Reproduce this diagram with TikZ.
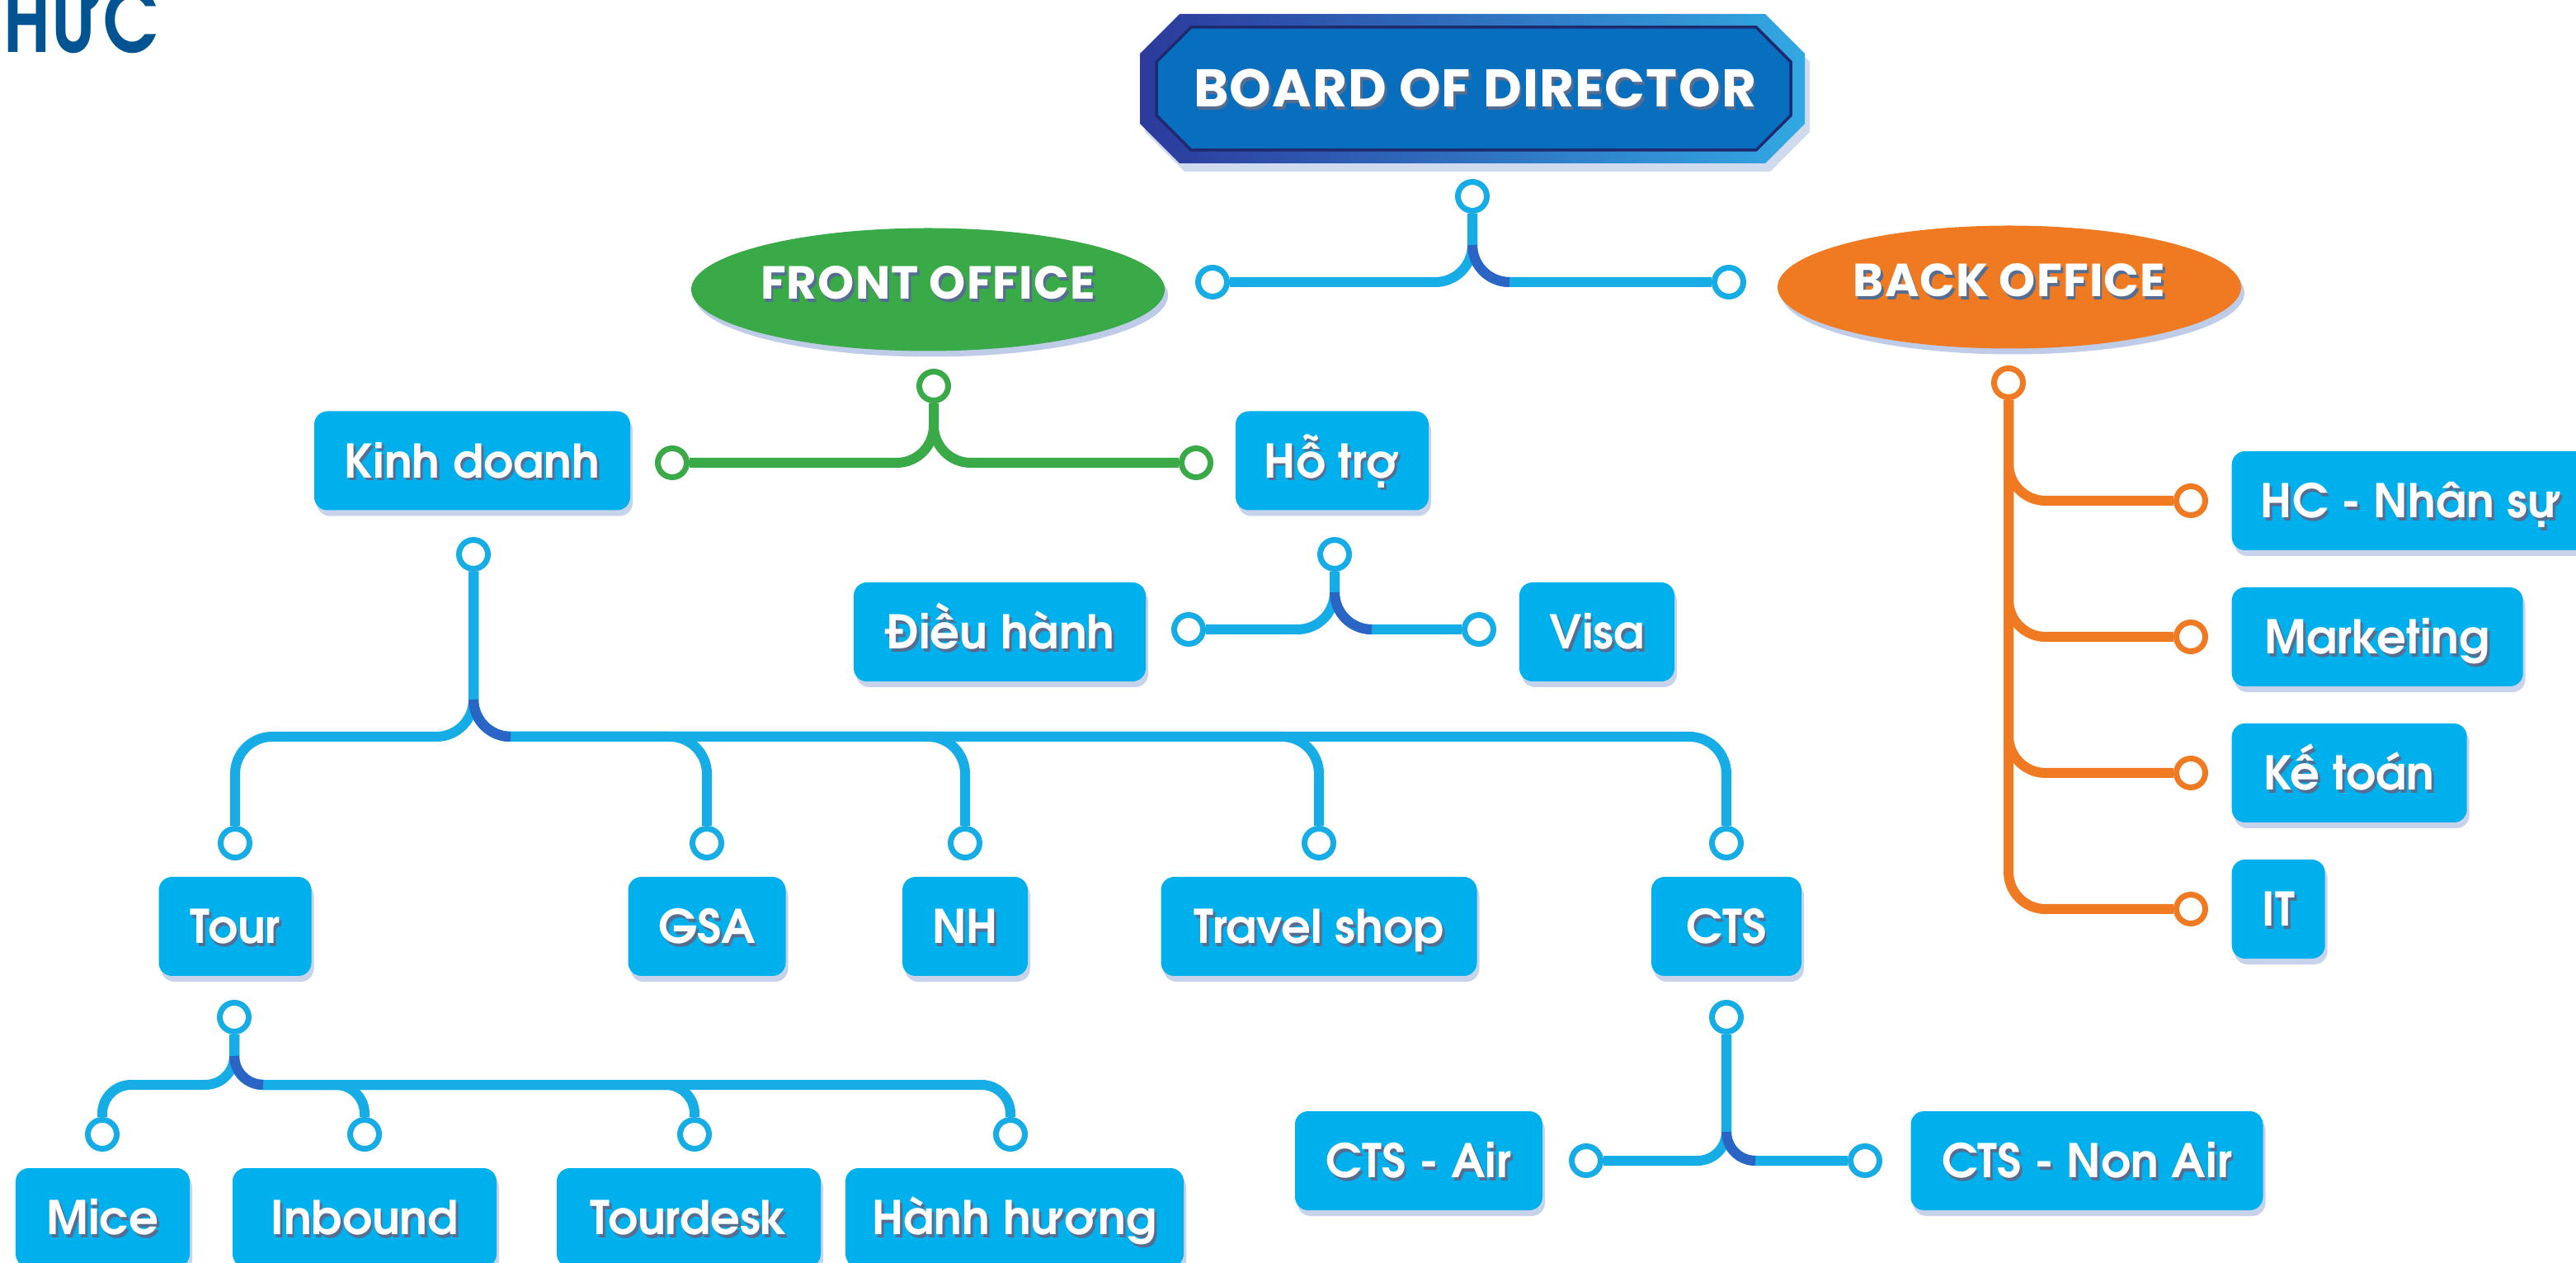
\documentclass[tikz,border=0pt]{standalone}
\usepackage{fontspec}
\setmainfont{TeX Gyre Adventor}
\newfontfamily\headfont{Poppins}[LetterSpace=2]
\usepackage{xcolor}
\usetikzlibrary{positioning,shapes.geometric,shadows,calc}

\definecolor{boxblue}{RGB}{0,176,236}
\definecolor{linkblue}{RGB}{22,172,230}
\definecolor{linkdeep}{RGB}{42,100,196}
\definecolor{fogreen}{RGB}{58,170,72}
\definecolor{boorange}{RGB}{240,122,34}
\definecolor{bdnavy}{RGB}{44,58,156}
\definecolor{bdsky}{RGB}{50,168,226}
\definecolor{bdfill}{RGB}{8,110,190}
\definecolor{logoblue}{RGB}{0,84,146}
\definecolor{txtshadow}{RGB}{30,60,110}
\definecolor{boxshadow}{RGB}{70,110,190}

% white text with a small dark shadow
\newcommand{\shtxt}[1]{\makebox[0pt][l]{\hspace{0.8pt}\raisebox{-1pt}{\textcolor{txtshadow!75}{#1}}}#1}
% darker right turn of a blue fork
\newcommand{\deepturn}[2]{\draw[line width=0.12cm, draw=linkdeep] ($(#1)+(0,#2)$) to[out=-90,in=180] ($(#1)+(#2,0)$);}

\tikzset{
    box/.style={rounded corners=0.16cm, fill=boxblue, text=white, minimum height=1.2cm,
        inner sep=0pt, font=\fontsize{16}{18}\selectfont\bfseries, text height=11.8pt, text depth=0pt,
        drop shadow={shadow xshift=0.03cm, shadow yshift=-0.07cm, opacity=0.3, fill=boxshadow}},
    title/.style={text=white, font=\headfont\bfseries\fontsize{16}{18}\selectfont,
        text height=0.39cm, text depth=0.16cm, inner sep=0pt},
    oval/.style={ellipse, minimum width=5.62cm, minimum height=1.49cm, title,
        drop shadow={shadow xshift=0.04cm, shadow yshift=-0.07cm, opacity=0.35, fill=boxshadow}},
    link/.style={line width=0.12cm, draw=linkblue, rounded corners=0.45cm},
    dot/.style={circle, draw=linkblue, fill=white, line width=0.07cm, minimum size=0.35cm, inner sep=0pt}
}

\begin{document}
\begin{tikzpicture}
        \useasboundingbox (0,0) rectangle (31.23,-15.31);
        \fill[white] (0,0) rectangle (31.23,-15.31);

        % Logo text, cut by the page
        \node[anchor=base west, text=logoblue, inner sep=0pt,
            font=\fontsize{30}{30}\selectfont\bfseries] (logo) at (0.04,-0.64) {\scalebox{0.8}[1]{HƯC}};

        % Board of director
        \fill[boxshadow, opacity=0.25] (14.36,-0.27) -- (21.46,-0.27) -- (21.94,-0.75) -- (21.94,-1.60)
            -- (21.46,-2.08) -- (14.36,-2.08) -- (13.88,-1.60) -- (13.88,-0.75) -- cycle;
        \shade[left color=bdnavy, right color=bdsky] (14.30,-0.17) -- (21.40,-0.17) -- (21.88,-0.65)
            -- (21.88,-1.50) -- (21.40,-1.98) -- (14.30,-1.98) -- (13.82,-1.50) -- (13.82,-0.65) -- cycle;
        \filldraw[fill=bdfill, draw=bdnavy!70!black, line width=1pt] (14.44,-0.33) -- (21.29,-0.33)
            -- (21.71,-0.75) -- (21.71,-1.40) -- (21.29,-1.82) -- (14.44,-1.82) -- (14.02,-1.40)
            -- (14.02,-0.75) -- cycle;
        \node[title, font=\headfont\bfseries\fontsize{18.3}{20}\selectfont, text height=0.45cm, text depth=0cm]
            (bd) at (17.88,-1.07) {\shtxt{BOARD OF DIRECTOR}};

        % Front and back office
        \node[oval, fill=fogreen] (fo) at (11.25,-3.51) {\shtxt{FRONT OFFICE}};
        \node[oval, fill=boorange] (bo) at (24.36,-3.48) {\shtxt{BACK OFFICE}};

        \node[dot] (bd-c) at (17.85,-2.38) {};
        \node[dot] (bd-l) at (14.70,-3.42) {};
        \node[dot] (bd-r) at (20.96,-3.42) {};
        \coordinate (bd-j) at (17.85,-3.42);
        \draw[link] (bd-c.south) |- (bd-l.east);
        \draw[link] (bd-c.south) |- (bd-r.west);
        \deepturn{bd-j}{0.45}

        % Front office fork
        \begin{scope}[dot/.append style={draw=fogreen}, link/.append style={draw=fogreen}]
            \node[dot] (fo-c) at (11.32,-4.68) {};
            \node[dot] (fo-l) at (8.15,-5.61) {};
            \node[dot] (fo-r) at (14.50,-5.61) {};
            \draw[link] (fo-c.south) |- (fo-l.east);
            \draw[link] (fo-c.south) |- (fo-r.west);
        \end{scope}

        \node[box, minimum width=3.83cm] (kd) at (5.725,-5.585) {\shtxt{Kinh doanh}};
        \node[box, minimum width=2.34cm] (ht) at (16.15,-5.585) {\shtxt{Hỗ trợ}};

        % Ho tro fork
        \node[dot] (ht-c) at (16.18,-6.72) {};
        \node[dot] (ht-l) at (14.41,-7.63) {};
        \node[dot] (ht-r) at (17.93,-7.63) {};
        \coordinate (ht-j) at (16.18,-7.63);
        \draw[link] (ht-c.south) |- (ht-l.east);
        \draw[link] (ht-c.south) |- (ht-r.west);
        \deepturn{ht-j}{0.45}
        \node[box, minimum width=3.54cm] (dh) at (12.12,-7.66) {\shtxt{Điều hành}};
        \node[box, minimum width=1.88cm] (visa) at (19.36,-7.66) {\shtxt{Visa}};

        % Kinh doanh fork
        \node[dot] (kd-c) at (5.74,-6.72) {};
        \coordinate (kd-j) at (5.74,-8.93);
        \foreach \n/\x/\w/\t in {tour/2.85/1.85/Tour, gsa/8.57/1.91/GSA, nh/11.70/1.52/NH,
                ts/15.99/3.83/Travel shop, cts/20.93/1.82/CTS} {
            \node[dot] (\n-c) at (\x,-10.22) {};
            \node[box, minimum width=\w cm] (\n) at (\x,-11.23) {\shtxt{\t}};
            \draw[link] (kd-c.south) |- (\n-c.north |- kd-j) -- (\n-c.north);
        }
        \deepturn{kd-j}{0.45}

        % Tour fork
        \node[dot] (tour-s) at (2.84,-12.33) {};
        \coordinate (tour-j) at (2.84,-13.15);
        \foreach \n/\x/\bx/\w/\t in {mice/1.24/1.245/2.11/Mice, inb/4.42/4.42/3.20/Inbound,
                tdk/8.42/8.35/3.20/Tourdesk, hh/12.25/12.30/4.10/Hành hương} {
            \node[dot] (\n-c) at (\x,-13.75) {};
            \node[box, minimum width=\w cm] (\n) at (\bx,-14.76) {\shtxt{\t}};
            \draw[link, rounded corners=0.35cm] (tour-s.south) |- (\n-c.north |- tour-j) -- (\n-c.north);
        }
        \deepturn{tour-j}{0.35}

        % CTS fork
        \node[dot] (cts-s) at (20.93,-12.33) {};
        \node[dot] (cts-l) at (19.23,-14.07) {};
        \node[dot] (cts-r) at (22.61,-14.07) {};
        \coordinate (cts-j) at (20.93,-14.07);
        \draw[link, rounded corners=0.35cm] (cts-s.south) |- (cts-l.east);
        \draw[link, rounded corners=0.35cm] (cts-s.south) |- (cts-r.west);
        \deepturn{cts-j}{0.35}
        \node[box, minimum width=3.00cm] (air) at (17.20,-14.07) {\shtxt{CTS - Air}};
        \node[box, minimum width=4.27cm] (nonair) at (25.30,-14.07) {\shtxt{CTS - Non Air}};

        % Back office branches
        \node[dot, draw=boorange] (bo-c) at (24.35,-4.64) {};
        \foreach \n/\y/\w/\t in {hc/6.07/4.35/HC - Nhân sự, mkt/7.72/3.53/Marketing,
                kt/9.37/2.85/Kế toán, it/11.02/1.13/IT} {
            \node[dot, draw=boorange] (\n-c) at (26.56,-\y) {};
            \node[box, minimum width=\w cm, anchor=west] (\n) at (27.05,-\y) {\shtxt{\t}};
            \draw[link, draw=boorange] (bo-c.south) |- (\n-c.west);
        }
\end{tikzpicture}
\end{document}
